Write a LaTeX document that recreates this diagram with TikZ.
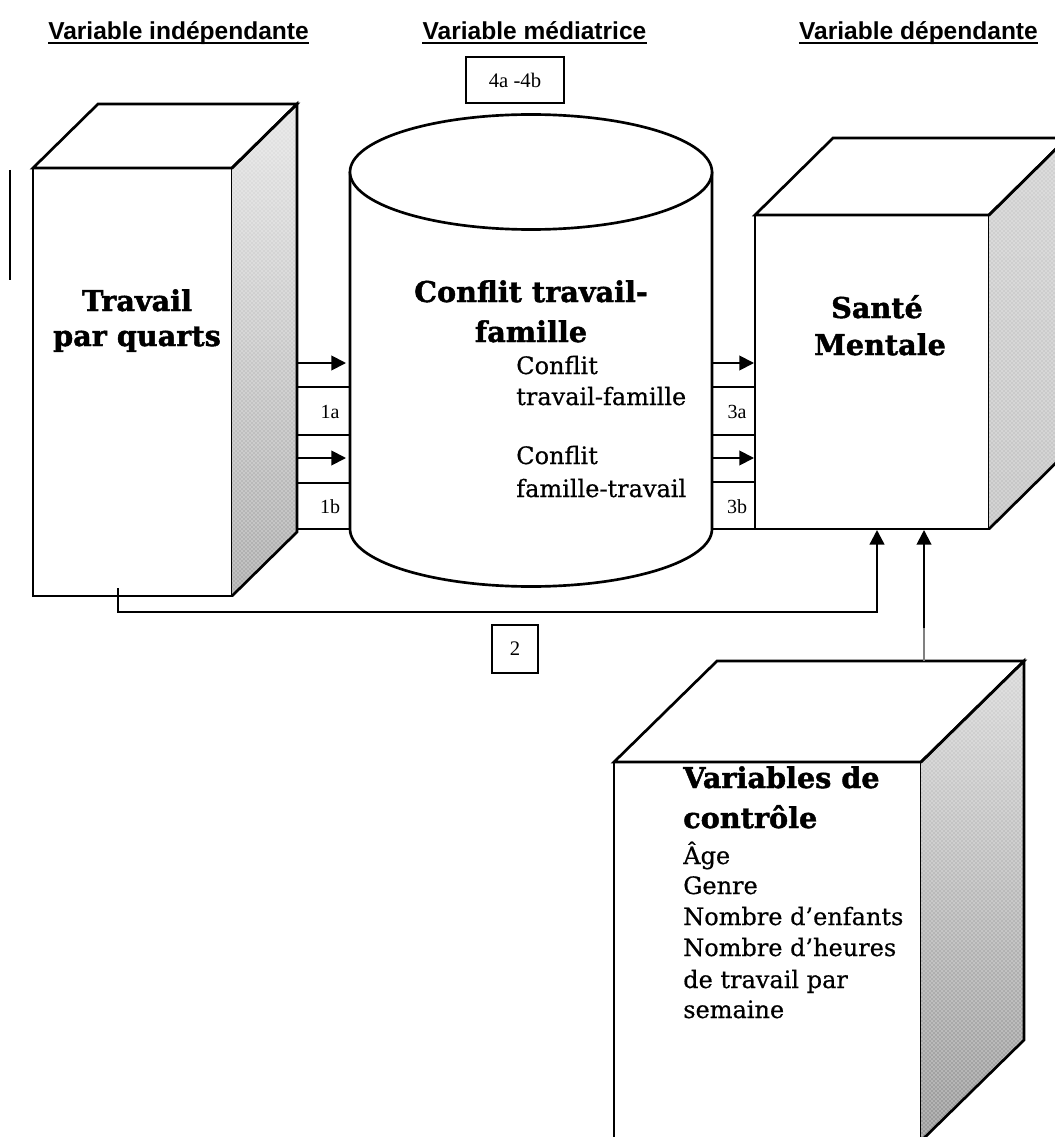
\documentclass[tikz,border=0pt]{standalone}
\usepackage{fontspec}
\setmainfont{DejaVu Serif}
\newfontfamily\regfont{DejaVu Serif}[FakeBold=0.5]
\newfontfamily\heavyfont{DejaVu Serif}[UprightFont={* Bold}, FakeBold=1.5]
\newfontfamily\hdrfont{Liberation Sans}
\newfontfamily\numfont{Liberation Serif}
\usetikzlibrary{arrows.meta,patterns,calc}
\begin{document}
\begin{tikzpicture}[x=0.75pt,y=-0.75pt,
  edge/.style={line width=2pt},
  front/.style={draw, line width=2pt, fill=white, inner sep=0pt, outer sep=0pt},
  dotted texture/.style={postaction={pattern=crosshatch dots, pattern color=white}},
  sideL/.style={top color=gray!20, middle color=gray!80, bottom color=gray!65, dotted texture},
  sideR/.style={top color=gray!35, middle color=gray!85, bottom color=gray!45, dotted texture},
  sideK/.style={top color=gray!30, middle color=gray!70, bottom color=gray!80, dotted texture},
  rowline/.style={line width=1.4pt},
  flow/.style={line width=1.4pt, -{Triangle[length=11pt,width=11pt]}},
  conn/.style={line width=1.8pt, -{Triangle[length=11pt,width=11pt]}},
  hdr/.style={font=\hdrfont\bfseries\fontsize{18.4}{20}\selectfont, inner sep=0pt, anchor=base},
  uline/.style={line width=1.5pt},
  bold/.style={font=\heavyfont\fontsize{21.5}{24}\selectfont, inner sep=0pt, anchor=base},
  boldw/.style={font=\heavyfont\fontsize{21.5}{24}\selectfont, inner sep=0pt, anchor=base west},
  reg/.style={font=\regfont\fontsize{18}{20}\selectfont, inner sep=0pt, anchor=base west},
  numlbl/.style={font=\numfont\fontsize{15}{17}\selectfont, inner sep=0pt},
  numbox/.style={draw, line width=1.4pt, fill=white, font=\numfont\fontsize{15.5}{17}\selectfont, inner sep=0pt, outer sep=0pt}
]
\useasboundingbox (0,0) rectangle (1055,1137);
\clip (0,0) rectangle (1055,1137);

% ---------- headers ----------
\node[hdr] (h1) at (178.5,40) {Variable indépendante};
\node[hdr] (h2) at (534.5,40) {Variable médiatrice};
\node[hdr] (h3) at (918.5,40) {Variable dépendante};
\foreach \h in {h1,h2,h3}{
  \draw[uline] ($(\h.base west)+(0,3)$) -- ($(\h.base east)+(0,3)$);
}

% ---------- box 4a-4b ----------
\node[numbox, minimum width=73.5pt, minimum height=34.5pt] (b4) at (515,80) {4a -4b};

% ---------- stray vertical line ----------
\coordinate (v0) at (10,170);
\coordinate (v1) at (10,280);
\draw[line width=1.6pt] (v0) -- (v1);

% ---------- left cube ----------
\node[front, minimum width=149.25pt, minimum height=321pt] (LC) at (132.5,382) {};
\fill[sideL] (LC.north east) -- ++(65,-64) -- ++(0,428) -- (LC.south east) -- cycle;
\draw[edge, fill=white] (LC.north west) -- ++(65,-64) -- ++(199,0) -- (LC.north east) -- cycle;
\draw[edge] (LC.north east) -- ++(65,-64) -- ++(0,428) -- (LC.south east);
\node[bold] (t1) at (137,311) {Travail};
\node[bold] (t2) at (137,346) {par quarts};

% ---------- cylinder ----------
\coordinate (cylT) at (531,172);
\coordinate (cylB) at (531,529);
\draw[edge, fill=white] (350,172) -- (350,529) arc[start angle=180, end angle=0, x radius=181, y radius=57.5] -- (712,172);
\draw[edge, fill=white] (cylT) ellipse[x radius=181, y radius=57.5];
\node[bold] (c1) at (531,302) {Conflit travail-};
\node[bold] (c2) at (531,342) {famille};
\node[reg] (c3) at (516,374) {Conflit};
\node[reg] (c4) at (516,405) {travail-famille};
\node[reg] (c5) at (516,464) {Conflit};
\node[reg] (c6) at (516,497) {famille-travail};

% ---------- left label column ----------
\foreach \y in {387,435,483,529}{ \draw[rowline] (297,\y) -- (350,\y); }
\coordinate (la1) at (297,363); \coordinate (la1e) at (346,363);
\coordinate (la2) at (297,458); \coordinate (la2e) at (346,458);
\draw[flow] (la1) -- (la1e);
\draw[flow] (la2) -- (la2e);
\node[numlbl] (l1a) at (330,412) {1a};
\node[numlbl] (l1b) at (330,507) {1b};

% ---------- right cube ----------
\node[front, minimum width=175.5pt, minimum height=235.5pt] (RC) at (872,372) {};
\fill[sideR] (RC.north east) -- ++(78,-77) -- ++(0,314) -- (RC.south east) -- cycle;
\draw[edge, fill=white] (RC.north west) -- ++(78,-77) -- ++(234,0) -- (RC.north east) -- cycle;
\draw[edge] (RC.north east) -- ++(78,-77) -- ++(0,314) -- (RC.south east);
\node[bold] (s1) at (877,318) {Santé};
\node[bold] (s2) at (880,355) {Mentale};

% ---------- right label column ----------
\foreach \y in {387,435,482,529}{ \draw[rowline] (712,\y) -- (755,\y); }
\coordinate (ra1) at (712,363); \coordinate (ra1e) at (754,363);
\coordinate (ra2) at (712,458); \coordinate (ra2e) at (754,458);
\draw[flow] (ra1) -- (ra1e);
\draw[flow] (ra2) -- (ra2e);
\node[numlbl] (l3a) at (737,412) {3a};
\node[numlbl] (l3b) at (737,507) {3b};

% ---------- lower cube ----------
\node[front, minimum width=230.25pt, minimum height=284.25pt] (LK) at (767.5,951.5) {};
\fill[sideK] (LK.north east) -- ++(103,-101) -- ++(0,379) -- (LK.south east) -- cycle;
\draw[edge, fill=white] (LK.north west) -- ++(103,-101) -- ++(307,0) -- (LK.north east) -- cycle;
\draw[edge] (LK.north east) -- ++(103,-101) -- ++(0,379) -- (LK.south east);
\node[boldw] (k1) at (683,788) {Variables de};
\node[boldw] (k2) at (683,828) {contrôle};
\node[reg] (k3) at (683,864) {Âge};
\node[reg] (k4) at (683,894) {Genre};
\node[reg] (k5) at (683,925) {Nombre d’enfants};
\node[reg] (k6) at (683,956) {Nombre d’heures};
\node[reg] (k7) at (683,988) {de travail par};
\node[reg] (k8) at (683,1018) {semaine};

% ---------- connectors ----------
\coordinate (p0) at (118,588);
\coordinate (p1) at (118,612);
\coordinate (p2) at (877,612);
\coordinate (p3) at (877,530);
\draw[conn] (p0) -- (p1) -- (p2) -- (p3);
\coordinate (q0) at (924,661);
\coordinate (qm) at (924,628);
\coordinate (q1) at (924,530);
\draw[line width=0.8pt, gray] (q0) -- (qm);
\draw[conn, line width=1.5pt] (qm) -- (q1);

\node[numbox, minimum width=34.5pt, minimum height=36pt] (b2) at (515,649) {2};
\end{tikzpicture}
\end{document}
